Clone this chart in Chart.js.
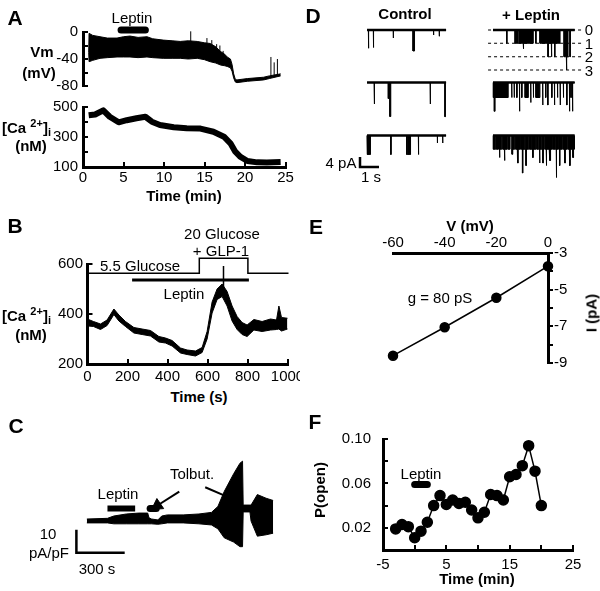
<!DOCTYPE html>
<html>
<head>
<meta charset="utf-8">
<script src="https://cdn.jsdelivr.net/npm/chart.js@4.4.1/dist/chart.umd.min.js"></script>
<style>
  body { margin: 0; background: #fff; }
  #fig { position: relative; width: 600px; height: 591px; overflow: hidden; background: #fff;
         font-family: 'Liberation Sans', Arial, sans-serif; color: #000; }
  #fig canvas { position: absolute; }
  .t { position: absolute; white-space: nowrap; line-height: 1; transform: translate(-50%, -50%); font-size: 15px; }
  .l { transform: translate(0, -50%); }
  .b { font-weight: bold; }
  .p { font-weight: bold; font-size: 21px; }
  .r { transform: translate(-50%, -50%) rotate(-90deg); }
  sup { font-size: 11px; vertical-align: 6px; }
  sub { font-size: 11px; vertical-align: -3px; }
  #bWrap { position: absolute; left: 0; top: 245px; width: 300px; height: 140px; overflow: hidden; }
</style>
</head>
<body>
<div id="fig">
  <canvas id="aVm" width="300" height="75" style="left:0;top:20px"></canvas>
  <canvas id="aCa" width="300" height="93" style="left:0;top:97px"></canvas>
  <div id="bWrap"><canvas id="bCa" width="320" height="140" style="left:0;top:0"></canvas></div>
  <canvas id="cCur" width="300" height="150" style="left:0;top:430px"></canvas>
  <canvas id="dCh" width="300" height="195" style="left:300px;top:0"></canvas>
  <canvas id="eIV" width="300" height="175" style="left:300px;top:205px"></canvas>
  <canvas id="fPo" width="300" height="171" style="left:300px;top:420px"></canvas>

  <div class="t p" style="left:15px;top:17px">A</div>
  <div class="t p" style="left:15px;top:225px">B</div>
  <div class="t p" style="left:16px;top:425px">C</div>
  <div class="t p" style="left:313px;top:15px">D</div>
  <div class="t p" style="left:316px;top:226px">E</div>
  <div class="t p" style="left:315px;top:421px">F</div>

  <div class="t" style="left:132px;top:17px">Leptin</div>
  <div class="t b" style="left:42px;top:51px">Vm</div>
  <div class="t b" style="left:39px;top:72px">(mV)</div>
  <div class="t b l" style="left:2px;top:128px">[Ca <sup>2+</sup>]<sub>i</sub></div>
  <div class="t b" style="left:31px;top:145px">(nM)</div>
  <div class="t b" style="left:184px;top:195px">Time (min)</div>

  <div class="t" style="left:222px;top:233px">20 Glucose</div>
  <div class="t" style="left:221px;top:250px">+ GLP-1</div>
  <div class="t" style="left:140px;top:265px">5.5 Glucose</div>
  <div class="t" style="left:184px;top:293px">Leptin</div>
  <div class="t b l" style="left:2px;top:316px">[Ca <sup>2+</sup>]<sub>i</sub></div>
  <div class="t b" style="left:31px;top:334px">(nM)</div>
  <div class="t b" style="left:199px;top:396px">Time (s)</div>

  <div class="t" style="left:118px;top:493px">Leptin</div>
  <div class="t" style="left:192px;top:473px">Tolbut.</div>
  <div class="t" style="left:48px;top:533px">10</div>
  <div class="t" style="left:49px;top:552px">pA/pF</div>
  <div class="t" style="left:97px;top:568px">300 s</div>

  <div class="t b" style="left:405px;top:13px">Control</div>
  <div class="t b" style="left:531px;top:14px">+ Leptin</div>
  <div class="t" style="left:589px;top:29px">0</div>
  <div class="t" style="left:589px;top:43px">1</div>
  <div class="t" style="left:589px;top:56px">2</div>
  <div class="t" style="left:589px;top:70px">3</div>
  <div class="t" style="left:341px;top:162px">4 pA</div>
  <div class="t" style="left:371px;top:176px">1 s</div>

  <div class="t b" style="left:470px;top:225px">V (mV)</div>
  <div class="t" style="left:440px;top:297px">g = 80 pS</div>
  <div class="t b r" style="left:591px;top:313px">I (pA)</div>

  <div class="t" style="left:421px;top:473px">Leptin</div>
  <div class="t b r" style="left:319px;top:490px">P(open)</div>
  <div class="t b" style="left:477px;top:578px">Time (min)</div>
</div>

<script>
// ---- A: membrane potential (envelope of the spiking trace), min / mV
const vmT   = [0.7, 0.75, 1.2, 2.1, 3.0, 4.2, 5.0, 5.8, 6.8, 7.9, 8.6, 9.9, 11.0, 12.0, 13.0, 14.1, 15.0, 15.7, 16.4, 17.0, 17.5, 17.8, 18.2, 18.4, 18.6, 18.8, 19.0, 20.3, 22.3, 23.0, 24.4];
const vmTop = [-30, -2, -5, -7, -9, -9, -7, -6, -8, -7, -10, -12, -13, -14, -13, -14, -16, -17, -22, -29, -33, -37, -40, -48, -62, -70, -71, -69, -67, -65, -62];
const vmBot = [-30, -44, -42, -39, -38, -37, -37, -37, -38, -37, -38, -39, -39, -39, -40, -39, -41, -44, -46, -49, -50, -51, -53, -58, -68, -74, -75, -73, -71, -69, -65];
const vmSpikeT    = [13.3, 15.3, 15.9, 16.5, 16.9, 17.3, 23.2, 23.6, 24.0];
const vmSpikePeak = [1, -9, -12, -18, -20, -28, -37, -45, -40];
const vmSpikeBase = [-20, -25, -25, -30, -35, -40, -65, -65, -64];
const aLeptinT = [4.7, 7.7];
const aLeptinY = [3, 3];

// ---- A: [Ca2+]i, min / nM
const caAT = [0.7, 1.5, 2.5, 3.3, 4.4, 5.4, 6.6, 7.7, 8.5, 9.5, 11.2, 12.8, 14.5, 16.1, 17.4, 18.2, 18.8, 19.4, 20.3, 21.5, 22.7, 24.4];
const caA  = [445, 450, 478, 435, 398, 412, 425, 435, 402, 380, 365, 358, 356, 335, 302, 258, 202, 169, 140, 131, 130, 133];

// ---- B: [Ca2+]i envelope, s / nM
const bT  = [5, 30, 65, 98, 132, 157, 190, 232, 273, 315, 357, 390, 423, 465, 498, 540, 573, 598, 623, 648, 673, 698, 723, 748, 773, 798, 832, 873, 915, 945, 957, 970, 1000];
const bHi = [378, 370, 360, 376, 420, 396, 370, 346, 340, 334, 310, 304, 294, 264, 256, 252, 266, 330, 448, 500, 520, 490, 432, 390, 366, 356, 378, 370, 380, 376, 432, 386, 383];
const bLo = [352, 350, 338, 354, 398, 372, 350, 324, 318, 312, 288, 284, 272, 244, 238, 232, 246, 300, 404, 458, 470, 432, 372, 338, 318, 310, 336, 330, 336, 338, 340, 332, 340];
const glucT = [0, 559, 559, 802, 802, 1005];
const glucY = [563, 563, 623, 623, 563, 563];
const bLeptinT = [223, 807];
const bLeptinY = [536, 536];
const bMarkT = [680, 680];
const bMarkY = [592, 505];

// ---- C: whole-cell current envelope, s / pA/pF
const cT  = [137, 265, 304, 382, 460, 515, 523, 539, 578, 602, 637, 735, 833, 911, 951, 990, 1049, 1088, 1104, 1108, 1150, 1157, 1196, 1250, 1294];
const cHi = [0.9, 1.2, 2.2, 3.1, 3.5, 3.5, 1.4, 0.9, 0.5, 2.2, 2.7, 2.7, 3.1, 3.8, 6.4, 12.9, 20.7, 25.3, 26.2, 7, 7, 7, 11.6, 10, 9];
const cLo = [-0.8, -0.8, -1.2, -1.2, -1.2, -1.2, -1.2, -1.2, -1.4, -1.2, -0.8, -0.8, -1.2, -1.7, -3.4, -7.3, -9.2, -11.2, -11.2, 4, 4, 0, -6.6, -6, -5.3];
const cLeptinT = [265, 437];
const cLeptinY = [5.5, 5.5];
const cTolbT = [530, 568];
const cTolbY = [5.5, 5.5];
const cScaleT = [72, 72, 372];
const cScaleY = [-3.8, -13.8, -13.8];
const cArrow1T = [711, 575];
const cArrow1Y = [12.9, 6.8];
const cArrow2T = [872, 1000];
const cArrow2Y = [14.8, 10.9];

// ---- D: single-channel openings [start s, duration s, amplitude pA]
const ctl1 = [[0.07, 0.02, 7.3], [0.33, 0.02, 7], [1.38, 0.01, 3.2], [2.42, 0.08, 8.4], [3.5, 0.01, 2], [3.8, 0.01, 2.5]];
const ctl2 = [[0.37, 0.03, 8.6], [1.12, 0.08, 6.4], [1.2, 0.05, 13.6], [3.32, 0.02, 8.6], [4.1, 0.02, 13.7]];
const ctl3 = [[0.02, 0.04, 7.6], [0.09, 0.03, 7.6], [0.15, 0.03, 7.6], [1.25, 0.02, 7.6], [2.09, 0.05, 7.6], [2.18, 0.04, 7.6],
              [2.26, 0.03, 7.6], [2.7, 0.02, 7.6], [3.7, 0.01, 3], [3.98, 0.01, 3]];
const lep1 = [[0.72, 0.02, 5.3], [1.16, 0.17, 5.3], [1.39, 0.2, 5.3], [1.59, 0.03, 7.5], [1.62, 0.5, 5.3], [2.25, 0.02, 5.3],
              [2.47, 0.42, 5.3], [2.89, 0.03, 10.7], [2.92, 0.15, 5.3], [3.07, 0.03, 10.7], [3.1, 0.14, 5.3], [3.24, 0.03, 10.7],
              [3.27, 0.26, 5.3], [3.74, 0.12, 10.7], [3.86, 0.03, 16], [3.89, 0.06, 10.7], [4.05, 0.02, 10.7]];
const lep2 = [[0.02, 0.05, 6], [0.07, 0.04, 11.5], [0.11, 0.69, 6], [0.98, 0.02, 6], [1.11, 0.02, 6], [1.25, 0.02, 6],
              [1.39, 0.02, 11.5], [1.51, 0.02, 6], [1.69, 0.17, 6], [1.98, 0.02, 8], [2.12, 0.02, 6], [2.26, 0.21, 6],
              [2.61, 0.02, 9], [2.77, 0.02, 6], [2.88, 0.02, 9], [3.09, 0.02, 6], [3.23, 0.02, 9], [3.39, 0.02, 6],
              [3.53, 0.02, 9], [3.7, 0.02, 6], [3.88, 0.02, 9], [4.02, 0.02, 11.5], [4.1, 0.02, 6], [4.18, 0.02, 11.5]];
const lep3 = [[0.02, 0.12, 5.5], [0.19, 0.1, 5.5], [0.33, 0.03, 8.8], [0.36, 0.1, 5.5], [0.52, 0.08, 5.5], [0.6, 0.03, 10],
              [0.63, 0.12, 5.5], [0.8, 0.1, 5.5], [1.0, 0.04, 7.5], [1.04, 0.1, 5.5], [1.2, 0.08, 5.5], [1.3, 0.03, 11],
              [1.33, 0.12, 5.5], [1.5, 0.05, 5.5], [1.55, 0.03, 15], [1.58, 0.1, 5.5], [1.73, 0.03, 12], [1.76, 0.12, 5.5],
              [1.93, 0.12, 5.5], [2.09, 0.03, 8.8], [2.12, 0.14, 5.5], [2.31, 0.1, 5.5], [2.44, 0.03, 11], [2.47, 0.1, 5.5],
              [2.62, 0.03, 11], [2.65, 0.05, 5.5], [2.75, 0.05, 5.5], [2.8, 0.03, 12], [2.83, 0.13, 5.5], [3.0, 0.03, 10],
              [3.03, 0.1, 5.5], [3.18, 0.12, 5.5], [3.32, 0.03, 16.8], [3.35, 0.1, 5.5], [3.5, 0.03, 12], [3.53, 0.12, 5.5],
              [3.7, 0.06, 5.5], [3.78, 0.03, 11], [3.81, 0.1, 5.5], [3.96, 0.06, 5.5], [4.04, 0.03, 12], [4.07, 0.12, 5.5],
              [4.21, 0.03, 8.8], [4.24, 0.04, 5.5]];
const dRowBase = [0, -21, -42.2];
const dStart = [0.37, 7.0];
const dLen = [4.16, 4.3];
const dLevels = [0, 5.3, 10.7, 16];
const dLevelT = [6.74, 11.68];
const dScaleT = [0, 0, 1];
const dScaleY = [-50.8, -54.8, -54.8];

// ---- E: I-V relation
const ivV = [-60, -40, -20, 0];
const ivI = [-8.6, -7.05, -5.44, -3.72];

// ---- F: open probability, min
const fT = [-3, -2, -1, 0, 1, 2, 3, 4, 5, 6, 7, 8, 9, 10, 11, 12, 13, 14, 15, 16, 17, 18, 19, 20];
const fP = [0.019, 0.023, 0.021, 0.011, 0.017, 0.025, 0.040, 0.049, 0.041, 0.045, 0.042, 0.043, 0.036, 0.029, 0.034, 0.050, 0.049, 0.045, 0.066, 0.068, 0.076, 0.094, 0.071, 0.040];
const fLeptinT = [0, 2];
const fLeptinY = [0.059, 0.059];

Chart.defaults.font.family = "'Liberation Sans', Arial, sans-serif";
Chart.defaults.font.size = 15;
Chart.defaults.color = '#000';

const pts = (xs, ys) => xs.map((x, i) => ({ x, y: ys[i] }));

function line(data, extra) {
  return Object.assign({
    type: 'line', data, borderColor: '#000', backgroundColor: '#000', borderWidth: 1,
    pointRadius: 0, tension: 0, fill: false, clip: false, spanGaps: false
  }, extra || {});
}

function shown(o) {
  return {
    type: 'linear', position: o.pos, min: o.min, max: o.max,
    afterFit: s => {
      if (s.isHorizontal()) s.height = o.size; else s.width = o.size;
      // keep the plot area exactly where the layout padding puts it
      s.paddingTop = s.paddingBottom = s.paddingLeft = s.paddingRight = 0;
    },
    border: { display: true, color: '#000', width: 3 },
    grid: { display: true, drawOnChartArea: false, drawTicks: o.tick !== 0, tickLength: o.tick, color: '#000', lineWidth: 2 },
    ticks: { stepSize: o.step, padding: o.pad, autoSkip: false, maxRotation: 0, callback: o.label || (v => String(v)) }
  };
}
const hidden = (min, max) => ({ type: 'linear', display: false, min, max });

function make(id, datasets, scales, padding) {
  return new Chart(document.getElementById(id), {
    type: 'line',
    data: { datasets },
    options: {
      responsive: false, animation: false, events: [],
      layout: { padding },
      plugins: { legend: { display: false }, tooltip: { enabled: false } },
      scales
    }
  });
}

// A - Vm
const spikes = [];
vmSpikeT.forEach((t, i) => spikes.push({ x: t, y: vmSpikeBase[i] }, { x: t, y: vmSpikePeak[i] }, { x: t, y: null }));
make('aVm', [
  line(pts(vmT, vmTop), { fill: '+1' }),
  line(pts(vmT, vmBot)),
  line(spikes),
  line(pts(aLeptinT, aLeptinY), { borderWidth: 7, borderCapStyle: 'round' })
], {
  x: hidden(0, 25),
  y: shown({ pos: 'left', min: -80, max: 0, step: 20, size: 83, tick: -5, pad: 10, label: v => (v % 40 === 0 ? String(v) : '') })
}, { left: 0, top: 12, right: 14.5, bottom: 9 });

// A - Ca
make('aCa', [
  line(pts(caAT, caA), { borderWidth: 6, borderJoinStyle: 'round' })
], {
  x: shown({ pos: 'bottom', min: 0, max: 25, step: 5, size: 23, tick: -5, pad: 7 }),
  y: shown({ pos: 'left', min: 100, max: 500, step: 100, size: 83, tick: -5, pad: 10, label: v => (v % 200 === 100 ? String(v) : '') })
}, { left: 0, top: 10, right: 14.5, bottom: 0 });

// B
make('bCa', [
  line(pts(bT, bHi), { fill: '+1' }),
  line(pts(bT, bLo)),
  line(pts(glucT, glucY), { borderWidth: 1.5 }),
  line(pts(bLeptinT, bLeptinY), { borderWidth: 3 }),
  line(pts(bMarkT, bMarkY), { borderWidth: 1.5 })
], {
  x: shown({ pos: 'bottom', min: 0, max: 1000, step: 200, size: 21, tick: -5, pad: 9 }),
  y: shown({ pos: 'left', min: 200, max: 600, step: 200, size: 87.5, tick: -5, pad: 9.5 })
}, { left: 0, top: 19, right: 32.5, bottom: 0 });

// C
make('cCur', [
  line(pts(cT, cHi), { fill: '+1' }),
  line(pts(cT, cLo)),
  line(pts(cLeptinT, cLeptinY), { borderWidth: 6 }),
  line(pts(cTolbT, cTolbY), { borderWidth: 7, borderCapStyle: 'round' }),
  line(pts(cScaleT, cScaleY), { borderWidth: 2.5 }),
  line(pts(cArrow1T, cArrow1Y), { borderWidth: 2 }),
  line([{ x: cArrow1T[1], y: cArrow1Y[1] }], { pointRadius: 7, pointStyle: 'triangle', rotation: 236, pointBackgroundColor: '#000', pointBorderColor: '#000' }),
  line(pts(cArrow2T, cArrow2Y), { borderWidth: 2 })
], {
  x: hidden(-352.8, 1411.2),
  y: hidden(-22.27, 36.33)
}, 0);

// D
function channelTrace(events, t0, len, base) {
  const p = [{ x: t0, y: base }];
  events.forEach(([s, d, a]) => {
    p.push({ x: t0 + s, y: base }, { x: t0 + s, y: base - a }, { x: t0 + s + d, y: base - a }, { x: t0 + s + d, y: base });
  });
  p.push({ x: Math.max(t0 + len, p[p.length - 1].x), y: base });
  return p;
}
const dSets = [];
[[ctl1, ctl2, ctl3], [lep1, lep2, lep3]].forEach((col, c) => {
  col.forEach((ev, r) => {
    const base = dRowBase[r];
    dSets.push(line(channelTrace(ev, dStart[c], dLen[c], base), { fill: { value: base }, borderWidth: 1 }));
    dSets.push(line([{ x: dStart[c], y: base }, { x: dStart[c] + dLen[c], y: base }], { borderWidth: 2.5 }));
  });
});
dLevels.forEach(lv => {
  dSets.push(line([{ x: dLevelT[0], y: -lv }, { x: dLevelT[1], y: -lv }], { borderDash: [3, 3], borderWidth: 1 }));
});
dSets.push(line(pts(dScaleT, dScaleY), { borderWidth: 2.5 }));
make('dCh', dSets, { x: hidden(-3.158, 12.632), y: hidden(-66, 12) }, 0);

// E
make('eIV', [
  line(pts(ivV, ivI), { borderWidth: 1.5, pointRadius: 4.5, pointBackgroundColor: '#000', pointBorderColor: '#000' })
], {
  x: shown({ pos: 'top', min: -60, max: 0, step: 20, size: 48, tick: 0, pad: 1 }),
  y: shown({ pos: 'right', min: -9, max: -3, step: 1, size: 52, tick: 5, pad: 1, label: v => (v % 2 !== 0 ? String(v) : '') })
}, { left: 93, top: 0, right: 0, bottom: 17 });

// F
make('fPo', [
  line(pts(fT, fP), { borderWidth: 1.5, pointRadius: 5, pointBackgroundColor: '#000', pointBorderColor: '#000' }),
  line(pts(fLeptinT, fLeptinY), { borderWidth: 7, borderCapStyle: 'round' })
], {
  x: shown({ pos: 'bottom', min: -5, max: 25, step: 5, size: 41, tick: -5, pad: 11, label: v => ((v + 5) % 10 === 0 ? String(v) : '') }),
  y: shown({ pos: 'left', min: 0, max: 0.1, step: 0.02, size: 83, tick: -5, pad: 17,
             label: v => ([2, 6, 10].includes(Math.round(v * 100)) ? v.toFixed(2) : '') })
}, { left: 0, top: 19, right: 27, bottom: 0 });
</script>
</body>
</html>
